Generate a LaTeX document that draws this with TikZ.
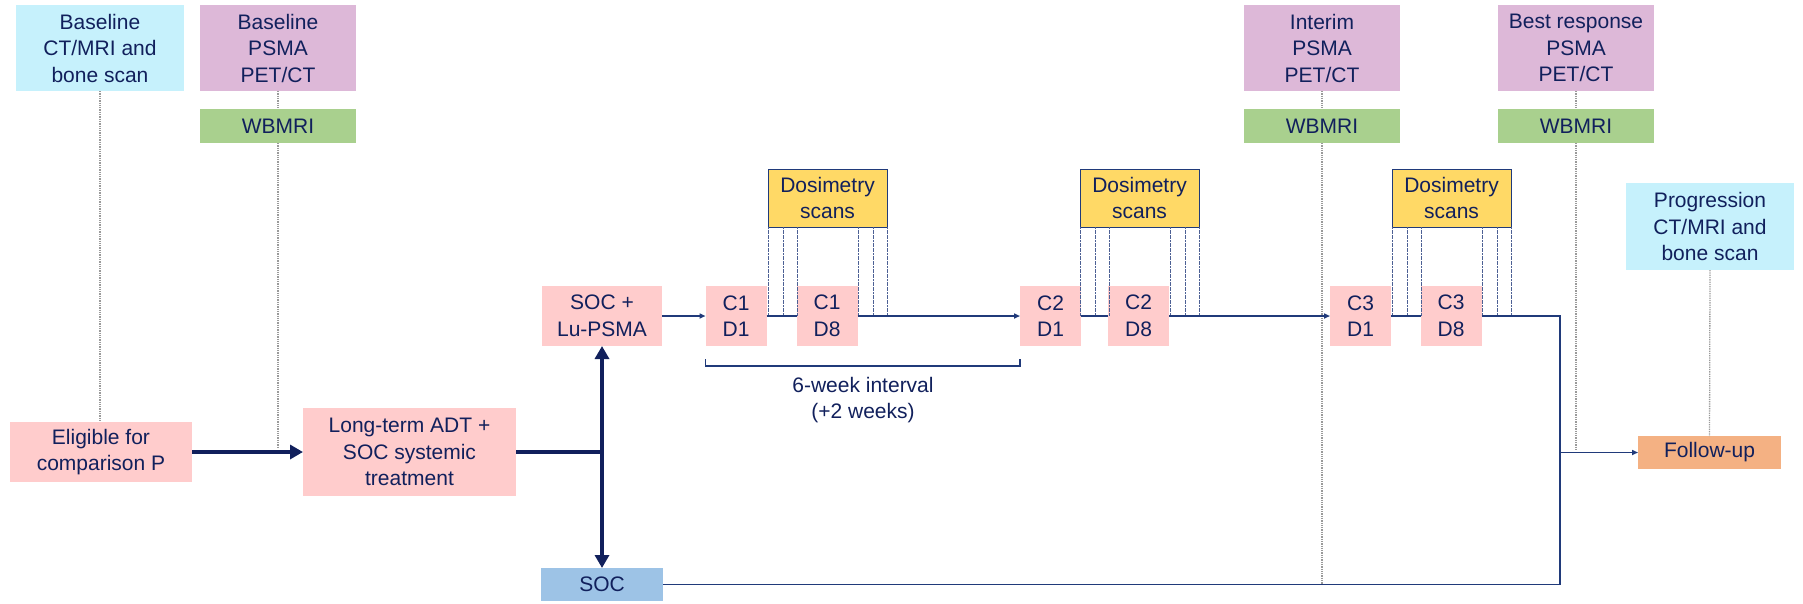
\documentclass[tikz,border=0pt]{standalone}
\usepackage{fontspec}
\setmainfont{Liberation Sans}
\usetikzlibrary{arrows.meta}
\definecolor{navy}{HTML}{11205C}
\definecolor{cyanbox}{HTML}{C6F1FC}
\definecolor{mauve}{HTML}{DDB8D8}
\definecolor{greenbox}{HTML}{A9D08E}
\definecolor{pinkbox}{HTML}{FFCCCC}
\definecolor{yellowbox}{HTML}{FFD966}
\definecolor{socblue}{HTML}{9DC3E6}
\definecolor{orangebox}{HTML}{F4B183}
\definecolor{dotgray}{HTML}{9A9A9A}
\definecolor{tline}{HTML}{203A7A}
\begin{document}
\begin{tikzpicture}[x=1pt,y=-1pt,
  box/.style={inner sep=0pt, outer sep=0pt, text=navy, align=center,
    font=\fontsize{21}{26.5}\selectfont},
  cbox/.style={box, fill=pinkbox, minimum width=61pt, minimum height=60pt},
  dosbox/.style={box, fill=yellowbox, draw=tline, line width=1pt, minimum width=119pt, minimum height=58pt},
  wbbox/.style={box, fill=greenbox, minimum width=156pt, minimum height=34pt},
  pbox/.style={box, fill=mauve, minimum width=156pt, minimum height=86pt},
  dotline/.style={draw=dotgray, line width=1.3pt, densely dotted},
  thickarrow/.style={draw=navy, line width=4.5pt, -{Triangle[length=13pt,width=14pt]}},
  thickline/.style={draw=navy, line width=4.5pt},
  tl/.style={draw=tline, line width=1.6pt},
  tlarrow/.style={tl, -{Triangle[length=6pt,width=5pt]}},
  dosline/.style={draw=tline!80, line width=0.8pt, dash pattern=on 2pt off 0.6pt}
]
\useasboundingbox (0,0) rectangle (1803,603);

% top boxes
\node[box, fill=cyanbox, minimum width=168pt, minimum height=86pt] (bct) at (100,48) {Baseline\\CT/MRI and\\bone scan};
\node[pbox] (bpsma) at (278,48) {Baseline\\PSMA\\PET/CT};
\node[wbbox] (wb1) at (278,126) {WBMRI};
\node[pbox] (interim) at (1322,48) {Interim\\PSMA\\PET/CT};
\node[wbbox] (wb2) at (1322,126) {WBMRI};
\node[pbox] (best) at (1576,48) {Best response\\PSMA\\PET/CT};
\node[wbbox] (wb3) at (1576,126) {WBMRI};
\node[box, fill=cyanbox, minimum width=168pt, minimum height=87pt] (prog) at (1710,226.5) {Progression\\CT/MRI and\\bone scan};

% left flow
\node[box, fill=pinkbox, minimum width=182pt, minimum height=60pt] (elig) at (101,452) {Eligible for\\comparison P};
\node[box, fill=pinkbox, minimum width=213pt, minimum height=88pt] (lt) at (409.5,452) {Long-term ADT +\\SOC systemic\\treatment};
\node[box, fill=pinkbox, minimum width=120pt, minimum height=60pt] (soclu) at (602,316) {SOC +\\Lu-PSMA};
\node[box, fill=socblue, minimum width=122pt, minimum height=33pt] (soc) at (602,584.5) {SOC};

% cycles
\node[cbox] (c1d1) at (736,316) {C1\\D1};
\node[cbox] (c1d8) at (827,316) {C1\\D8};
\node[dosbox] (dos1) at (827.5,198) {Dosimetry\\scans};
\node[cbox] (c2d1) at (1050.5,316) {C2\\D1};
\node[cbox] (c2d8) at (1138.5,316) {C2\\D8};
\node[dosbox] (dos2) at (1139.5,198) {Dosimetry\\scans};
\node[cbox] (c3d1) at (1360.5,316) {C3\\D1};
\node[cbox] (c3d8) at (1451,316) {C3\\D8};
\node[dosbox] (dos3) at (1451.5,198) {Dosimetry\\scans};

\node[box, fill=orangebox, minimum width=143pt, minimum height=33pt] (fu) at (1709.5,452.5) {Follow-up};

\node[box] (interval) at (863,400) {6-week interval\\(+2 weeks)};

% dotted guide lines
\draw[dotline] (bct.south) -- (bct.south |- elig.north);
\draw[dotline] (bpsma.south) -- (wb1.north);
\draw[dotline] (wb1.south) -- (278,448);
\draw[dotline] (interim.south) -- (wb2.north);
\draw[dotline] (wb2.south) -- (1322,584);
\draw[dotline] (best.south) -- (wb3.north);
\draw[dotline] (wb3.south) -- (1576,451);
\draw[dotline] (prog.south) -- (fu.north);

% dosimetry lines
\foreach \d in {dos1,dos2,dos3}{
  \foreach \o in {0,15,29,90,105,119}{
    \draw[dosline] ([xshift=\o pt]\d.south west) -- ++(0,89);
  }
}

% thick flow
\coordinate (j1) at (soclu.south |- lt.east);
\draw[thickarrow] (elig.east) -- (lt.west);
\draw[thickline] (lt.east) -- ([xshift=2.25pt]j1);
\draw[thickarrow] ([yshift=2.25pt]j1) -- (soclu.south);
\draw[thickarrow] ([yshift=-2.25pt]j1) -- (soc.north);

% timeline
\draw[tlarrow] (soclu.east) -- (c1d1.west);
\draw[tl] (c1d1.east) -- (c1d8.west);
\draw[tlarrow] (c1d8.east) -- (c2d1.west);
\draw[tl] (c2d1.east) -- (c2d8.west);
\draw[tlarrow] (c2d8.east) -- (c3d1.west);
\draw[tl] (c3d1.east) -- (c3d8.west);
\coordinate (j2) at (1560,452.5);
\draw[tl] (c3d8.east) -| (j2);
\draw[tl] (soc.east) -| (j2);
\draw[tlarrow] (j2) -- (fu.west);

% interval bracket
\coordinate (bl) at (c1d1.south west |- 0,359);
\coordinate (br) at (c2d1.south west |- 0,359);
\draw[tl] (bl) -- ++(0,7) -| (br);
\end{tikzpicture}
\end{document}
